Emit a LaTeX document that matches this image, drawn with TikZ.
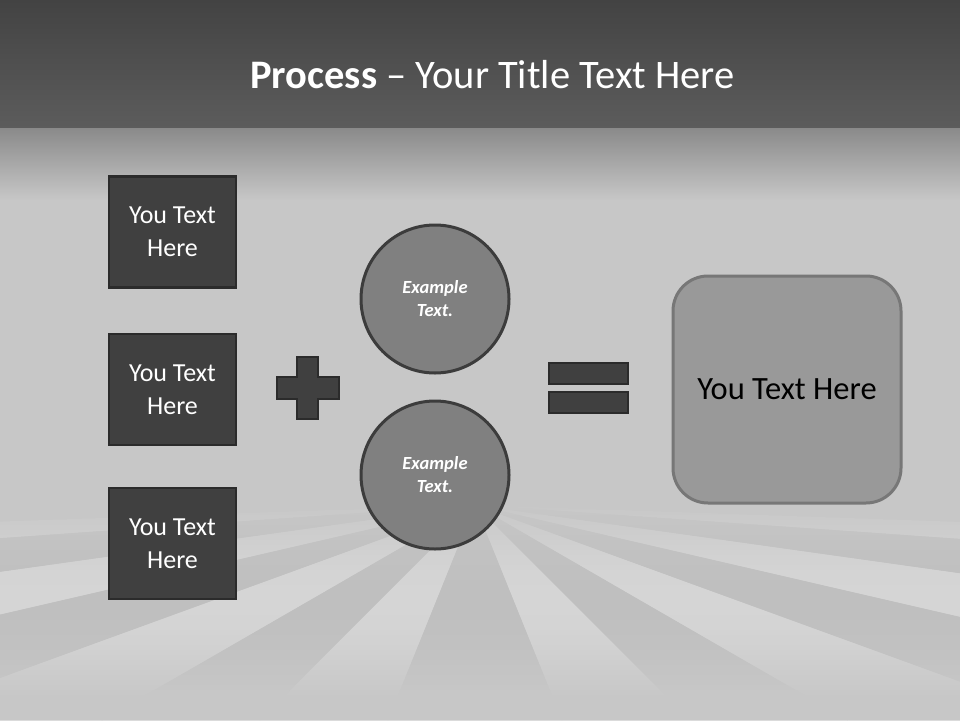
\documentclass[tikz,border=0pt]{standalone}
\usepackage{fontspec}
\setmainfont{Carlito}
\definecolor{topA}{HTML}{434343}
\definecolor{topB}{HTML}{5C5C5C}
\definecolor{midA}{HTML}{8A8A8A}
\definecolor{bgC}{HTML}{C7C7C7}
\definecolor{boxFill}{HTML}{404040}
\definecolor{boxLine}{HTML}{2B2B2B}
\definecolor{circFill}{HTML}{808080}
\definecolor{circLine}{HTML}{3C3C3C}
\definecolor{resFill}{HTML}{999999}
\definecolor{resLine}{HTML}{777777}
\tikzset{
  darkbox/.style={draw=boxLine, line width=2.5pt, fill=boxFill, minimum width=127pt, minimum height=111pt, inner sep=0pt, text=white, align=center, font=\fontsize{26}{33}\selectfont},
  roundel/.style={circle, draw=circLine, line width=3pt, fill=circFill, minimum size=148pt, inner sep=0pt, text=white, align=center, font=\fontsize{18.5}{23}\selectfont\bfseries\itshape},
  resultbox/.style={draw=resLine, line width=3pt, fill=resFill, rounded corners=35pt, minimum width=228pt, minimum height=227pt, inner sep=0pt, text=black, font=\fontsize{32.5}{38}\selectfont},
  opshape/.style={draw=boxLine, line width=2.5pt, fill=boxFill}
}
\begin{document}
\begin{tikzpicture}[x=1pt, y=-1pt]
\useasboundingbox (0,0) rectangle (960,720);
% background
\fill[bgC] (0,0) rectangle (960,720);
\shade[top color=topA, bottom color=topB] (0,0) rectangle (960,128);
\shade[top color=midA, bottom color=bgC] (0,128) rectangle (960,200);
% rays, drawn as horizontal slices of opaque mixed colour
\foreach \y in {505,510,...,715}{
  \pgfmathsetmacro{\s}{max(0,sin(180/190*(\y+2.5-505)))}
  \pgfmathsetmacro{\pw}{25*\s}
  \pgfmathsetmacro{\pd}{4*\s}
  \colorlet{rayL}{white!\pw!bgC}
  \colorlet{rayD}{black!\pd!bgC}
  \pgfmathsetmacro{\ya}{\y-505}
  \pgfmathsetmacro{\yb}{\y+5.6-505}
  \foreach \a/\b in {22/45,60/70,77/82,86/88,-45/-22,-70/-60,-82/-77,-88/-86}{
    \fill[rayL] ({475+\ya*tan(\a)},\y) -- ({475+\ya*tan(\b)},\y) -- ({475+\yb*tan(\b)},\y+5.6) -- ({475+\yb*tan(\a)},\y+5.6) -- cycle;
  }
  \foreach \a/\b in {-22/22,45/60,70/77,82/86,-60/-45,-77/-70,-86/-82}{
    \fill[rayD] ({475+\ya*tan(\a)},\y) -- ({475+\ya*tan(\b)},\y) -- ({475+\yb*tan(\b)},\y+5.6) -- ({475+\yb*tan(\a)},\y+5.6) -- cycle;
  }
}
% title
\node[anchor=base, text=white, font=\fontsize{40.5}{48}\selectfont, inner sep=0pt] (title) at (492.5,88) {\textbf{Process} – Your Title Text Here};
% left boxes
\node[darkbox] (b1) at (172.5,232) {You Text\\Here};
\node[darkbox] (b2) at (172.5,389.5) {You Text\\Here};
\node[darkbox] (b3) at (172.5,543.5) {You Text\\Here};
% plus
\draw[opshape] (297,357) -- (318,357) -- (318,377) -- (339,377) -- (339,399) -- (318,399) -- (318,419) -- (297,419) -- (297,399) -- (277,399) -- (277,377) -- (297,377) -- cycle;
% circles
\node[roundel] (c1) at (435,299) {Example\\Text.};
\node[roundel] (c2) at (435,475) {Example\\Text.};
% equals
\draw[opshape] (549,363) rectangle (628,384);
\draw[opshape] (549,392) rectangle (628,413);
% result
\node[resultbox] (res) at (787,389.5) {You Text Here};
\end{tikzpicture}
\end{document}
